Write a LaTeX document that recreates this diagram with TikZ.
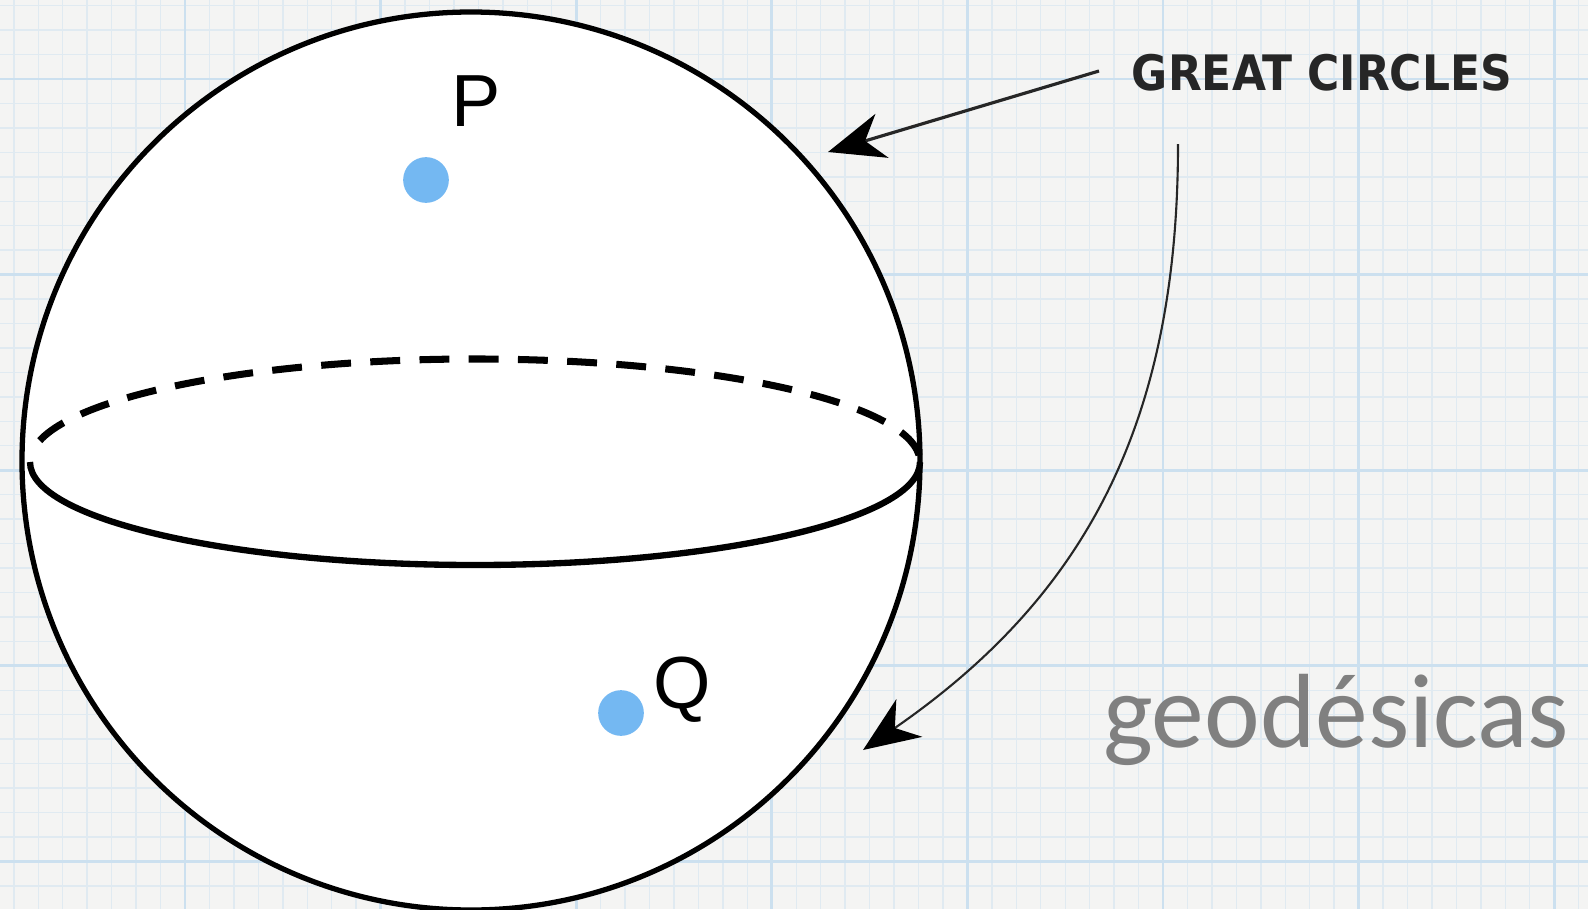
\documentclass[tikz,border=0pt]{standalone}
\usepackage{fontspec}
\setmainfont{Liberation Sans}
\newfontfamily\capsfont{DejaVu Sans Condensed}
\newfontfamily\notefont{Carlito}
\usepackage{tikz}
\usetikzlibrary{arrows.meta}
\definecolor{paper}{HTML}{F4F4F3}
\definecolor{gridminor}{HTML}{E0EAF1}
\definecolor{gridmajor}{HTML}{CCE0EF}
\definecolor{pointblue}{HTML}{74B8F2}
\definecolor{notegray}{HTML}{808080}

\begin{document}
\begin{tikzpicture}[
  x=0.01cm, y=-0.01cm,
  minorline/.style={gridminor, line width=0.4pt},
  majorline/.style={gridmajor, line width=0.75pt},
  ball/.style={draw=black, line width=1.5pt, fill=white},
  equator/.style={line width=1.8pt},
  backequator/.style={line width=2pt, dash pattern=on 8.5pt off 5.5pt},
  pointdot/.style={circle, fill=pointblue, minimum size=13pt, inner sep=0pt},
  ptlabel/.style={font=\fontsize{21}{21}\selectfont, inner sep=0pt},
  arr/.style={-{Stealth[length=16pt, width=13pt, inset=5pt, color=black]}, black!85}
]
  \useasboundingbox (0,0) rectangle (1588,909);
  \fill[paper] (0,0) rectangle (1588,909);

  % graph paper
  \foreach \k in {0,...,64} {
    \pgfmathsetmacro{\gx}{13.85+24.45*\k}
    \draw[minorline] (\gx,0) -- (\gx,909);
  }
  \foreach \k in {0,...,37} {
    \pgfmathsetmacro{\gy}{5.65+24.45*\k}
    \draw[minorline] (0,\gy) -- (1588,\gy);
  }
  \foreach \k in {7,15,...,63} {
    \pgfmathsetmacro{\gx}{13.85+24.45*\k}
    \draw[majorline] (\gx,0) -- (\gx,909);
  }
  \foreach \k in {3,11,...,35} {
    \pgfmathsetmacro{\gy}{5.65+24.45*\k}
    \draw[majorline] (0,\gy) -- (1588,\gy);
  }

  % sphere and equator
  \draw[ball] (471,461) circle[radius=449];
  \draw[equator] (920,462) arc[start angle=0, end angle=180, x radius=445, y radius=103];
  \draw[backequator] (475,462) ++(192:445 and 103)
    arc[start angle=192, end angle=358, x radius=445, y radius=103];

  % points
  \node[pointdot] (P) at (426,180) {};
  \node[ptlabel] (Plabel) at (476,101) {P};
  \node[pointdot] (Q) at (621,713) {};
  \node[ptlabel] (Qlabel) at (682,690) {Q};

  % labels
  \node[font=\capsfont\bfseries\fontsize{13.9}{14}\selectfont, text=black!85] (great) at (1322,73) {GREAT CIRCLES};
  \node[font=\notefont\fontsize{30}{30}\selectfont, text=notegray, anchor=base] (geo) at (1336,747) {geodésicas};

  \coordinate (gcA) at (1099,71);
  \coordinate (tipA) at (828,152);
  \coordinate (gcB) at (1178,144);
  \coordinate (tipB) at (863,750);
  \draw[arr, line width=0.9pt] (gcA) -- (tipA);
  \draw[arr, line width=0.6pt] (gcB) .. controls (1178,430) and (1080,600) .. (tipB);
\end{tikzpicture}
\end{document}
